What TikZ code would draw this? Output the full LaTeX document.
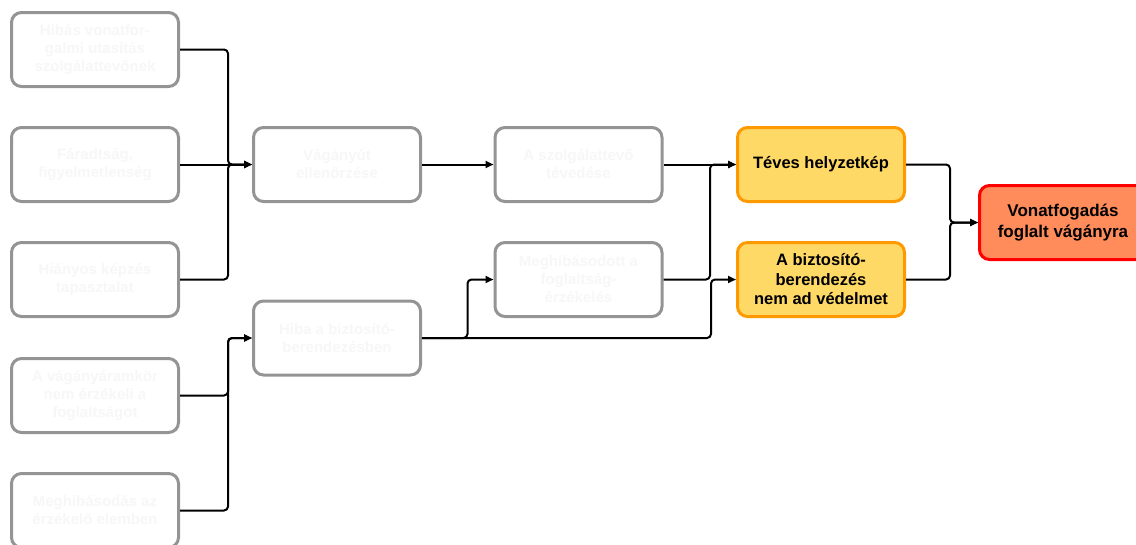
\documentclass[tikz,border=0pt]{standalone}
\usepackage{fontspec}
\setmainfont{Liberation Sans}
\usetikzlibrary{arrows.meta}
\definecolor{boxgray}{RGB}{148,148,148}
\definecolor{fainttext}{RGB}{247,247,247}
\definecolor{midfill}{RGB}{255,217,102}
\definecolor{midborder}{RGB}{255,153,0}
\definecolor{topfill}{RGB}{255,140,90}
\definecolor{topborder}{RGB}{255,0,0}
\tikzset{
  event/.style={rectangle, rounded corners=10pt, line width=3pt,
    minimum width=167pt, minimum height=74pt, align=center,
    inner sep=2pt},
  basic/.style={event, draw=boxgray, fill=white, text=fainttext,
    font=\fontsize{15}{18}\selectfont\bfseries},
  mid/.style={event, draw=midborder, fill=midfill, text=black,
    font=\fontsize{16.5}{19.5}\selectfont\bfseries},
  top/.style={event, draw=topborder, fill=topfill, text=black,
    font=\fontsize{17}{20.5}\selectfont\bfseries},
  conn/.style={draw=black, line width=2pt, rounded corners=4pt,
    -{Triangle[length=8pt,width=7pt]}}
}
\begin{document}
\begin{tikzpicture}[x=1pt,y=-1pt]
\useasboundingbox (0,0) rectangle (1136,544);
\clip (0,0) rectangle (1136,544);

% basic causes, left column
\node[basic] (g1) at (95,49.5)  {Hibás vonatfor-\\galmi utasítás\\szolgálattevőnek};
\node[basic] (g2) at (95,164.5) {Fáradtság,\\figyelmetlenség};
\node[basic] (g3) at (95,279.5) {Hiányos képzés\\tapasztalat};
\node[basic] (g4) at (95,395.5) {A vágányáramkör\\nem érzékeli a\\foglaltságot};
\node[basic] (g5) at (95,510.5) {Meghibásodás az\\érzékelő elemben};

% intermediate events
\node[basic] (A) at (337,164.5) {Vágányút\\ellenőrzése};
\node[basic] (B) at (337,338)   {Hiba a biztosító-\\berendezésben};
\node[basic] (C) at (578.5,164.5) {A szolgálattevő\\tévedése};
\node[basic] (D) at (578.5,279.5) {Meghibásodott a\\foglaltság-\\érzékelés};

% hazards
\node[mid] (E) at (821,164.5) {Téves helyzetkép};
\node[mid] (F) at (821,279.5) {A biztosító-\\berendezés\\nem ad védelmet};

% top event
\node[top] (R) at (1063,222.5) {Vonatfogadás\\foglalt vágányra};

% connectors
\draw[conn] (g1.east) -| ([xshift=-24pt]A.west) -- (A.west);
\draw[conn] (g2.east) -- (A.west);
\draw[conn] (g3.east) -| ([xshift=-24pt]A.west) -- (A.west);
\draw[conn] (g4.east) -| ([xshift=-24pt]B.west) -- (B.west);
\draw[conn] (g5.east) -| ([xshift=-24pt]B.west) -- (B.west);

\draw[conn] (A.east) -- (C.west);
\draw[conn] (B.east) -| ([xshift=-26pt]D.west) -- (D.west);
\draw[conn] (B.east) -| ([xshift=-25pt]F.west) -- (F.west);

\draw[conn] (C.east) -- (E.west);
\draw[conn] (D.east) -| ([xshift=-26pt]E.west) -- (E.west);

\draw[conn] (E.east) -| ([xshift=-28pt]R.west) -- (R.west);
\draw[conn] (F.east) -| ([xshift=-28pt]R.west) -- (R.west);
\end{tikzpicture}
\end{document}
